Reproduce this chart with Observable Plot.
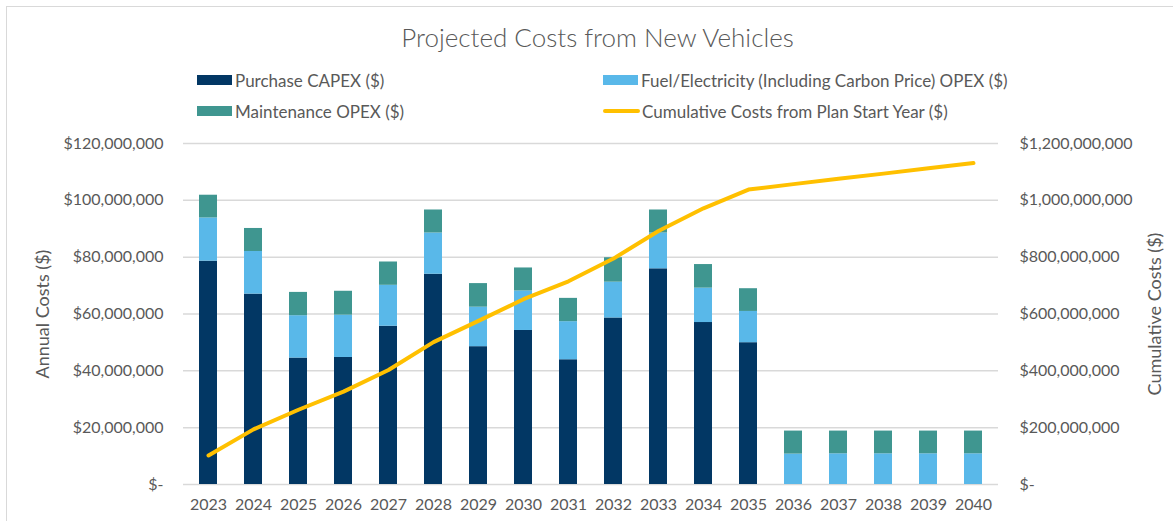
<!DOCTYPE html>
<html><head><meta charset="utf-8">
<script src="https://cdn.jsdelivr.net/npm/d3@7"></script>
<script src="https://cdn.jsdelivr.net/npm/@observablehq/plot@0.6"></script>
<style>
html,body{margin:0;padding:0;background:#fff;overflow:hidden}
body{width:1173px;height:521px;position:relative;font-family:Lato,"Open Sans",sans-serif;color:#595959}
#frame{position:absolute;left:6px;top:6px;width:1190px;height:540px;border:1.5px solid #d9d9d9;box-sizing:border-box}
#title{position:absolute;left:0;width:1195px;top:20px;text-align:center;font-size:26px;line-height:34px;font-weight:300}
.leg{position:absolute;font-size:17px;display:flex;align-items:center;height:20px;white-space:nowrap}
.sw{width:35px;height:10px;margin-right:3px}
.ln{width:37px;height:4px;border-radius:2px;margin-right:2px}
#chart{position:absolute;left:0;top:130px}
</style></head>
<body>
<div id="frame"></div>
<div id="title">Projected Costs from New Vehicles</div>
<div id="legend"></div>
<div id="chart"></div>
<script>
const years = [2023,2024,2025,2026,2027,2028,2029,2030,2031,2032,2033,2034,2035,2036,2037,2038,2039,2040];
// values in millions of dollars
const capex = [78.6,67.0,44.5,44.7,55.7,74.0,48.5,54.2,43.9,58.6,75.9,57.0,49.9,0,0,0,0,0];
const fuel  = [15.2,15.0,14.9,14.9,14.4,14.5,13.9,13.9,13.4,12.6,12.6,12.1,11.0,10.7,10.8,10.8,10.8,10.8];
const maint = [8.0,8.1,8.2,8.4,8.2,8.1,8.3,8.1,8.2,8.6,8.1,8.3,8.0,8.1,8.0,8.0,8.0,8.0];
const cumulative = [102,194,263,327,403,501,576,652,715,795,892,972,1038,1057,1076,1094,1113,1131];
const seriesNames = ["Purchase CAPEX ($)","Fuel/Electricity (Including Carbon Price) OPEX ($)","Maintenance OPEX ($)"];
const lineName = "Cumulative Costs from Plan Start Year ($)";
const seriesColors = ["#023764","#59B8E9","#3F9690"];
const lineColor = "#FFC000";
const leftTicks = [0,20e6,40e6,60e6,80e6,100e6,120e6];
const rightTicks = [0,200e6,400e6,600e6,800e6,1000e6,1200e6];
const leftTitle = "Annual Costs ($)";
const rightTitle = "Cumulative Costs ($)";

const ratio = 10;
const fmt = d => d === 0 ? "$-" : "$" + d3.format(",")(Math.round(d));
const values = [capex, fuel, maint];
const rows = years.flatMap((y,i) => seriesNames.map((s,k) => ({year:String(y), series:s, value:values[k][i]*1e6})));
const lineRows = years.map((y,i) => ({year:String(y), cum:cumulative[i]*1e6}));

// legend
const legendItems = [
  {name:seriesNames[0], color:seriesColors[0], left:197, top:70, kind:"sw"},
  {name:seriesNames[1], color:seriesColors[1], left:603, top:70, kind:"sw"},
  {name:seriesNames[2], color:seriesColors[2], left:197, top:101, kind:"sw"},
  {name:lineName, color:lineColor, left:603, top:101, kind:"ln"}
];
const leg = document.getElementById("legend");
for (const it of legendItems) {
  const d = document.createElement("div");
  d.className = "leg"; d.style.left = it.left + "px"; d.style.top = it.top + "px";
  const s = document.createElement("div"); s.className = it.kind; s.style.background = it.color;
  const t = document.createElement("span"); t.textContent = it.name;
  d.appendChild(s); d.appendChild(t); leg.appendChild(d);
}

const chart = Plot.plot({
  width:1173, height:391,
  marginTop:13, marginBottom:37, marginLeft:183, marginRight:175,
  style:{fontFamily:"Lato, 'Open Sans', sans-serif", fontSize:"16px", color:"#595959", background:"transparent", overflow:"visible"},
  x:{type:"band", domain:years.map(String), paddingInner:0.6, paddingOuter:0.3, label:null},
  y:{domain:[0,120e6], label:null},
  color:{domain:seriesNames, range:seriesColors},
  marks:[
    Plot.gridY(leftTicks, {stroke:"#d9d9d9", strokeOpacity:1, strokeWidth:1.5}),
    Plot.barY(rows, {x:"year", y:"value", fill:"series", order:seriesNames}),
    Plot.line(lineRows, {x:"year", y:d => d.cum/ratio, stroke:lineColor, strokeWidth:4, strokeLinecap:"round", strokeLinejoin:"round"}),
    Plot.axisY(leftTicks, {anchor:"left", tickSize:0, tickPadding:20, tickFormat:fmt, label:null}),
    Plot.axisY(rightTicks.map(d => d/ratio), {anchor:"right", tickSize:0, tickPadding:21, tickFormat:d => fmt(d*ratio), label:null}),
    Plot.axisX({tickSize:0, tickPadding:14, label:null}),
    Plot.text([leftTitle], {frameAnchor:"left", dx:-140, rotate:-90, textAnchor:"middle", fontSize:18, fill:"#595959", text:d => d}),
    Plot.text([rightTitle], {frameAnchor:"right", dx:157, rotate:-90, textAnchor:"middle", fontSize:18, fill:"#595959", text:d => d})
  ]
});
document.getElementById("chart").appendChild(chart);
</script>
</body></html>
